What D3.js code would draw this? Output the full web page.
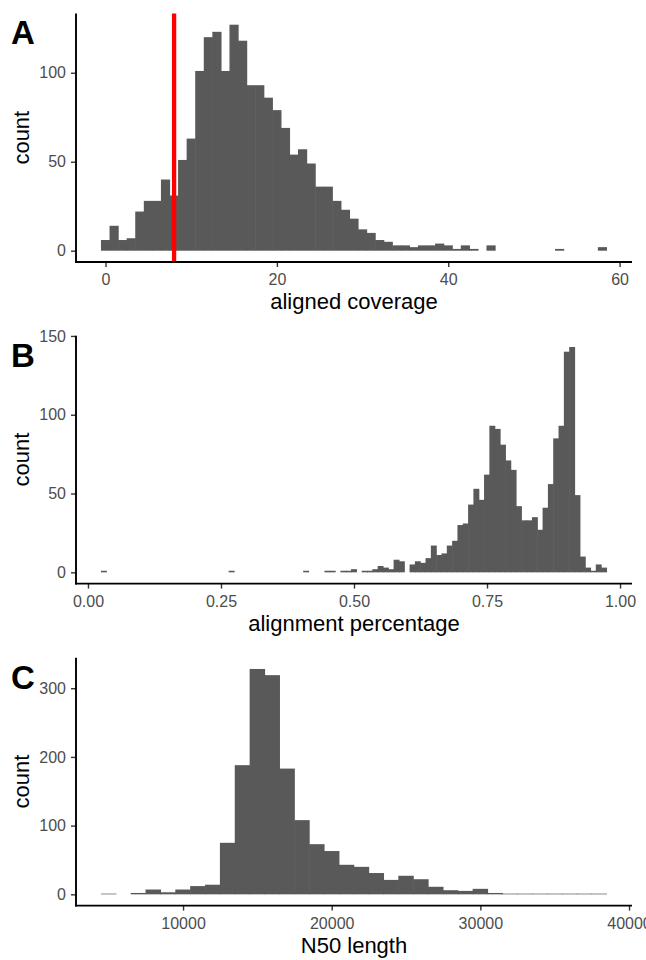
<!DOCTYPE html>
<html>
<head>
<meta charset="utf-8">
<script src="https://cdn.jsdelivr.net/npm/d3@7/dist/d3.min.js"></script>
<style>
  body { margin: 0; background: #fff; }
  svg { display: block; }
  text { font-family: "Liberation Sans", Arial, Helvetica, sans-serif; }
</style>
</head>
<body>
<svg id="chart" width="646" height="960"></svg>
<script>
// ---------- Panel A: aligned coverage (bin width 1, centres 0..58) ----------
const coverageBinCenters = [0,1,2,3,4,5,6,7,8,9,10,11,12,13,14,15,16,17,18,19,20,21,22,23,24,25,26,27,28,29,30,31,32,33,34,35,36,37,38,39,40,41,42,43,44,45,46,47,48,49,50,51,52,53,54,55,56,57,58];
const coverageCounts = [6,14,6,7,22,28,28,40,31,51,63,101,120,123,101,127,118,93,93,86,79,69,54,57,49,36,36,28,23,18,12,10,6,5,3,3,2,3,3,4,3,1,3,1,0,3,0,0,0,0,0,0,0,1,0,0,0,0,2];
const coverageBinWidth = 1;
const coverageCutoff = 8;
const coverageXTicks = [0, 20, 40, 60];
const coverageYTicks = [0, 50, 100];

// ---------- Panel B: alignment percentage (bin width 0.01, non-empty bins) ----------
const alignBinCenters = [0.03,0.27,0.41,0.45,0.46,0.48,0.49,0.50,0.52,0.53,0.54,0.55,0.56,0.57,0.58,0.59,
  0.61,0.62,0.63,0.64,0.65,0.66,0.67,0.68,0.69,0.70,
  0.71,0.72,0.73,0.74,0.75,0.76,0.77,0.78,0.79,0.80,
  0.81,0.82,0.83,0.84,0.85,0.86,0.87,0.88,0.89,0.90,
  0.91,0.92,0.93,0.94,0.95,0.96,0.97];
const alignCounts = [1,1,1,1,1,1,1,2,1,1,2,4,3,2,8,7,
  5,7,6,9,17,11,12,17,20,30,
  31,43,53,46,62,93,91,81,71,65,
  42,33,33,35,27,41,56,85,93,140,
  143,49,10,3,1,5,3];
const alignBinWidth = 0.01;
const alignXTicks = [0, 0.25, 0.5, 0.75, 1.0];
const alignXTickLabels = ["0.00", "0.25", "0.50", "0.75", "1.00"];
const alignYTicks = [0, 50, 100, 150];

// ---------- Panel C: N50 length (bin width 1000) ----------
const n50BinCenters = [5000,6000,7000,8000,9000,10000,11000,12000,13000,14000,15000,16000,17000,18000,19000,20000,21000,22000,23000,24000,25000,26000,27000,28000,29000,30000,31000,32000,33000,34000,35000,36000,37000,38000];
const n50Counts = [1,0,2,7,3,7,12,14,75,188,328,319,183,108,73,63,43,40,31,21,27,22,11,6,5,8,2,1,1,1,1,1,1,1];
const n50BinWidth = 1000;
const n50XTicks = [10000, 20000, 30000, 40000];
const n50YTicks = [0, 100, 200, 300];

// ---------- layout ----------
const svg = d3.select("#chart");
const LEFT = 76, RIGHT = 632;
const BAR_FILL = "#595959";

const panels = [
  { label: "A", top: 13.4, bottom: 262, centers: coverageBinCenters, counts: coverageCounts, bw: coverageBinWidth,
    xTicks: coverageXTicks, xFmt: d => String(d), yTicks: coverageYTicks, xTitle: "aligned coverage", vline: coverageCutoff },
  { label: "B", top: 335.7, bottom: 583.6, centers: alignBinCenters, counts: alignCounts, bw: alignBinWidth,
    xTicks: alignXTicks, xFmt: (d, i) => alignXTickLabels[i], yTicks: alignYTicks, xTitle: "alignment percentage" },
  { label: "C", top: 657.7, bottom: 905.6, centers: n50BinCenters, counts: n50Counts, bw: n50BinWidth,
    xTicks: n50XTicks, xFmt: d => String(d), yTicks: n50YTicks, xTitle: "N50 length" }
];

panels.forEach(p => {
  const xmin = d3.min(p.centers) - p.bw / 2;
  const xmax = d3.max(p.centers) + p.bw / 2;
  const xpad = (xmax - xmin) * 0.05;
  const ymax = d3.max(p.counts);
  const x = d3.scaleLinear().domain([xmin - xpad, xmax + xpad]).range([LEFT, RIGHT]);
  const y = d3.scaleLinear().domain([-ymax * 0.05, ymax * 1.05]).range([p.bottom, p.top]);

  const g = svg.append("g");

  // bars (slightly overlapped to avoid anti-aliasing seams)
  const bins = p.centers.map((c, i) => ({ c, n: p.counts[i] })).filter(d => d.n > 0);
  g.append("g").selectAll("rect").data(bins).join("rect")
    .attr("x", d => x(d.c - p.bw / 2) - 0.3)
    .attr("width", d => x(d.c + p.bw / 2) - x(d.c - p.bw / 2) + 0.6)
    .attr("y", d => y(d.n))
    .attr("height", d => y(0) - y(d.n))
    .attr("fill", BAR_FILL);

  // red cutoff line
  if (p.vline !== undefined) {
    g.append("line")
      .attr("x1", x(p.vline)).attr("x2", x(p.vline))
      .attr("y1", p.top).attr("y2", p.bottom)
      .attr("stroke", "#ff0000").attr("stroke-width", 4.3);
  }

  // axes
  const xAxis = d3.axisBottom(x).tickValues(p.xTicks).tickFormat(p.xFmt).tickSize(5).tickPadding(7);
  const yAxis = d3.axisLeft(y).tickValues(p.yTicks).tickSize(5).tickPadding(5);

  const gx = g.append("g").attr("transform", `translate(0,${p.bottom})`).call(xAxis);
  const gy = g.append("g").attr("transform", `translate(${LEFT},0)`).call(yAxis);

  [gx, gy].forEach(ax => {
    ax.select(".domain").remove();
    ax.selectAll(".tick line").attr("stroke", "#333333").attr("stroke-width", 1.4);
    ax.selectAll(".tick text").attr("fill", "#4d4d4d").style("font-size", "16px");
  });

  // axis lines
  g.append("line").attr("x1", LEFT).attr("x2", LEFT).attr("y1", p.top).attr("y2", p.bottom + 0.9)
    .attr("stroke", "#000").attr("stroke-width", 1.9);
  g.append("line").attr("x1", LEFT - 0.9).attr("x2", RIGHT).attr("y1", p.bottom).attr("y2", p.bottom)
    .attr("stroke", "#000").attr("stroke-width", 1.9);

  // titles
  g.append("text")
    .attr("x", (LEFT + RIGHT) / 2).attr("y", p.bottom + 47)
    .attr("text-anchor", "middle").attr("fill", "#000").style("font-size", "22px")
    .text(p.xTitle);
  g.append("text")
    .attr("transform", `translate(29,${(p.top + p.bottom) / 2}) rotate(-90)`)
    .attr("text-anchor", "middle").attr("fill", "#000").style("font-size", "22px")
    .text("count");

  // panel label
  g.append("text")
    .attr("x", 11).attr("y", p.top + 31)
    .attr("fill", "#000").style("font-size", "33px").style("font-weight", "bold")
    .text(p.label);
});
</script>
</body>
</html>
